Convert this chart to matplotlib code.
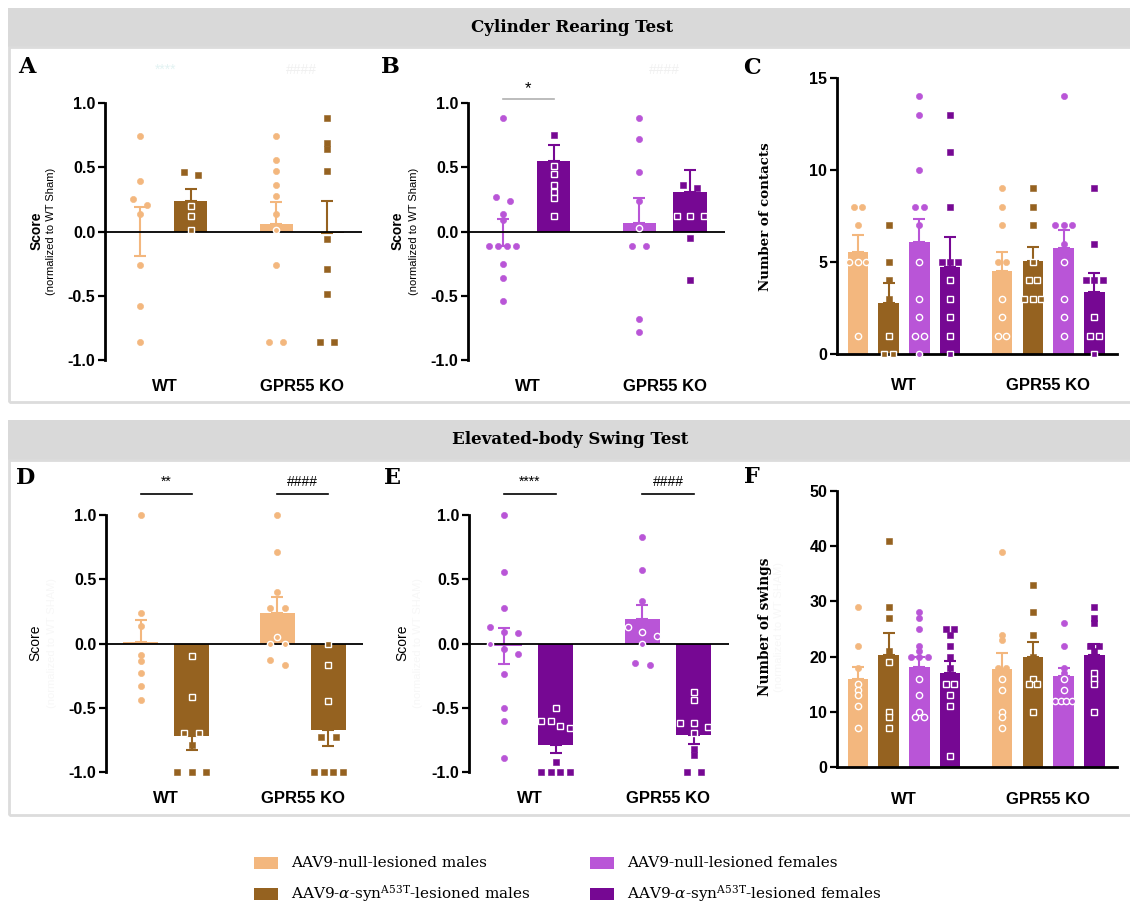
import numpy as np
import matplotlib
matplotlib.use('Agg')
import matplotlib.pyplot as plt
from matplotlib.patches import Rectangle

plt.rcParams['font.family'] = ['Liberation Sans', 'DejaVu Sans']
plt.rcParams['axes.unicode_minus'] = False
plt.rcParams['mathtext.fontset'] = 'dejavuserif'

W, H = 1130, 908

# ---- data ----
groups = ['WT', 'GPR55 KO']
colors = {'null_m': '#F3B77E', 'syn_m': '#956220', 'null_f': '#B955D7', 'syn_f': '#760893'}

# A: cylinder score, males (null WT, syn WT, null KO, syn KO)
a_null_wt = [0.74, 0.39, 0.25, 0.21, 0.14, -0.26, -0.58, -0.86]
a_syn_wt = [0.46, 0.44, 0.20, 0.12, 0.01]
a_null_ko = [0.74, 0.56, 0.47, 0.36, 0.28, 0.14, 0.01, -0.26, -0.86, -0.86]
a_syn_ko = [0.88, 0.69, 0.64, 0.47, -0.06, -0.29, -0.49, -0.86, -0.86]
a_mean = [0.0, 0.24, 0.06, -0.01]
a_err_hi = [0.19, 0.09, 0.17, 0.25]
a_err_lo = [0.19, 0.0, 0.0, 0.0]

# B: cylinder score, females
b_null_wt = [0.88, 0.27, 0.24, 0.14, 0.09, -0.11, -0.11, -0.11, -0.11, -0.25, -0.36, -0.54]
b_syn_wt = [0.75, 0.51, 0.45, 0.36, 0.31, 0.26, 0.12]
b_null_ko = [0.88, 0.72, 0.46, 0.24, 0.03, -0.11, -0.11, -0.68, -0.78]
b_syn_ko = [0.36, 0.34, 0.12, 0.12, 0.12, -0.05, -0.38]
b_mean = [0.0, 0.55, 0.07, 0.31]
b_err_hi = [0.10, 0.12, 0.19, 0.17]
b_err_lo = [0.11, 0.0, 0.0, 0.0]

# C: number of contacts (null m, syn m, null f, syn f) x (WT, KO)
c_null_m_wt = [8, 8, 7, 5, 5, 5, 1]
c_syn_m_wt = [7, 5, 4, 3, 1, 0, 0]
c_null_f_wt = [14, 13, 10, 8, 8, 7, 5, 3, 2, 1, 1, 0]
c_syn_f_wt = [13, 11, 8, 5, 5, 5, 4, 3, 2, 1, 0]
c_null_m_ko = [9, 8, 7, 5, 5, 3, 2, 1, 1]
c_syn_m_ko = [9, 8, 7, 5, 4, 4, 3, 3, 3]
c_null_f_ko = [14, 7, 7, 7, 6, 5, 3, 2, 1]
c_syn_f_ko = [9, 6, 4, 4, 4, 2, 1, 1, 0]
c_mean = [5.57, 2.79, 6.06, 4.73, 4.53, 5.08, 5.75, 3.39]
c_sem = [0.91, 1.06, 1.27, 1.65, 1.0, 0.76, 1.0, 1.0]

# D: swing score, males
d_null_wt = [1.0, 0.24, 0.14, -0.09, -0.14, -0.23, -0.33, -0.44]
d_syn_wt = [-0.10, -0.42, -0.70, -0.70, -0.79, -1.0, -1.0, -1.0]
d_null_ko = [1.0, 0.71, 0.40, 0.28, 0.28, 0.05, 0.0, 0.0, -0.13, -0.17]
d_syn_ko = [0.0, -0.17, -0.45, -0.73, -0.73, -1.0, -1.0, -1.0, -1.0]
d_mean = [0.01, -0.72, 0.24, -0.67]
d_err_hi = [0.17, 0.0, 0.12, 0.0]
d_err_lo = [0.0, 0.11, 0.0, 0.13]

# E: swing score, females
e_null_wt = [1.0, 0.56, 0.28, 0.13, 0.09, 0.08, 0.0, -0.04, -0.08, -0.24, -0.50, -0.60, -0.89]
e_syn_wt = [-0.50, -0.60, -0.60, -0.64, -0.66, -0.92, -1.0, -1.0, -1.0, -1.0]
e_null_ko = [0.83, 0.57, 0.33, 0.13, 0.09, 0.06, 0.0, -0.15, -0.17]
e_syn_ko = [-0.38, -0.44, -0.62, -0.62, -0.65, -0.70, -0.82, -0.87, -1.0, -1.0]
e_mean = [-0.02, -0.79, 0.19, -0.71]
e_err_hi = [0.14, 0.0, 0.11, 0.0]
e_err_lo = [0.14, 0.06, 0.0, 0.07]

# F: number of swings
f_null_m_wt = [29, 22, 18, 15, 14, 13, 11, 7]
f_syn_m_wt = [41, 29, 27, 21, 19, 10, 9, 7]
f_null_f_wt = [28, 27, 25, 22, 21, 20, 20, 20, 16, 13, 10, 9, 9]
f_syn_f_wt = [25, 25, 24, 22, 20, 18, 15, 15, 13, 11, 2]
f_null_m_ko = [39, 24, 23, 18, 18, 16, 14, 10, 9, 7]
f_syn_m_ko = [33, 28, 24, 20, 16, 15, 15, 10]
f_null_f_ko = [26, 22, 18, 17, 16, 14, 12, 12, 12, 12]
f_syn_f_ko = [29, 27, 26, 22, 22, 21, 17, 16, 15, 10]
f_mean = [15.9, 20.2, 18.2, 17.1, 17.8, 19.9, 16.4, 20.35]
f_sem = [2.3, 4.1, 1.7, 2.1, 2.9, 2.7, 1.6, 1.95]

legend_labels = ['AAV9-null-lesioned males',
                 r'AAV9-$\alpha$-syn$^{\mathrm{A53T}}$-lesioned males',
                 'AAV9-null-lesioned females',
                 r'AAV9-$\alpha$-syn$^{\mathrm{A53T}}$-lesioned females']


fig = plt.figure(figsize=(W / 100, H / 100), dpi=100)


def px_axes(x0, y0, x1, y1):
    return fig.add_axes([x0 / W, 1 - y1 / H, (x1 - x0) / W, (y1 - y0) / H])


def ftext(x, y, s, **kw):
    fig.text(x / W, 1 - y / H, s, **kw)


def frect(x0, y0, x1, y1, **kw):
    fig.add_artist(Rectangle((x0 / W, 1 - y1 / H), (x1 - x0) / W, (y1 - y0) / H,
                             transform=fig.transFigure, **kw))


def swarm(vals, px_per_y, step, span, thresh=5.5):
    vals = np.asarray(vals, float)
    order = np.argsort(-vals, kind='stable')
    offs = np.zeros(len(vals))
    clusters = []
    for i in order:
        if clusters and abs(vals[clusters[-1][-1]] - vals[i]) * px_per_y < thresh:
            clusters[-1].append(i)
        else:
            clusters.append([i])
    for cl in clusters:
        k = len(cl)
        if k > 1:
            s = min(step, span / (k - 1))
            for j, i in enumerate(cl):
                offs[i] = (j - (k - 1) / 2) * s
    return offs


def draw_bars(ax, pos, series, means, err_lo, err_hi, cols, marks, bw, px_per_y):
    for x, pts, m, lo, hi, col, mk in zip(pos, series, means, err_lo, err_hi, cols, marks):
        ax.errorbar(x, m, yerr=[[lo], [hi]], color=col, lw=1.5, capsize=4.5,
                    capthick=1.5, zorder=1)
        ax.bar(x, m, width=bw, color=col, zorder=2)
        offs = swarm(pts, px_per_y, 0.42 * bw, 0.82 * bw)
        ms = 4.5 if mk == 'o' else 4.1
        for v, o in zip(pts, offs):
            inside = (0 <= v <= m) if m >= 0 else (m <= v <= 0)
            if inside:
                ax.plot(x + o, v, mk, ms=ms, mfc=col, mec='white', mew=1.0,
                        zorder=4, clip_on=False)
            else:
                ax.plot(x + o, v, mk, ms=ms, mfc=col, mec=col, mew=0.4,
                        zorder=4, clip_on=False)


def style(ax, ylim, yticks, fmt, xlim, xt, xpad, bottom):
    ax.spines['top'].set_visible(False)
    ax.spines['right'].set_visible(False)
    ax.spines['left'].set_linewidth(2)
    if bottom:
        ax.spines['bottom'].set_linewidth(2)
        ax.spines['bottom'].set_position(('data', 0))
    else:
        ax.spines['bottom'].set_visible(False)
    ax.set_xlim(xlim)
    ax.set_ylim(ylim)
    ax.set_yticks(yticks)
    ax.set_yticklabels([fmt.format(t) for t in yticks], fontweight='bold')
    ax.set_xticks(xt)
    ax.set_xticklabels(groups, fontweight='bold', fontsize=12)
    ax.tick_params(axis='y', length=5, width=1.6, labelsize=11.5, pad=2)
    ax.tick_params(axis='x', length=0, pad=xpad)
    ax.patch.set_alpha(0)


# ---- background boxes and headers ----
frect(8, 8, 1131, 47, fc='#d9d9d9', ec='none')
frect(9, 47, 1132, 401.5, fc='none', ec='#dcdcdc', lw=2)
frect(8, 420, 1131, 460, fc='#d9d9d9', ec='none')
frect(9, 460, 1132, 815, fc='none', ec='#dcdcdc', lw=2)
ftext(572, 28, 'Cylinder Rearing Test', family='DejaVu Serif', weight='bold',
      fontsize=12, ha='center', va='center')
ftext(570, 440, 'Elevated-body Swing Test', family='DejaVu Serif', weight='bold',
      fontsize=12, ha='center', va='center')

pos4 = [0, 1, 2.68, 3.68]
xl4 = (-0.68, 4.36)
xt4 = [0.5, 3.18]
pos8 = [0, 1, 2, 3, 4.7, 5.7, 6.7, 7.7]
xl8 = (-0.68, 8.44)
xt8 = [1.5, 6.2]
score_ticks = [-1.0, -0.5, 0.0, 0.5, 1.0]

male_cols = [colors['null_m'], colors['syn_m'], colors['null_m'], colors['syn_m']]
female_cols = [colors['null_f'], colors['syn_f'], colors['null_f'], colors['syn_f']]
all_cols = [colors['null_m'], colors['syn_m'], colors['null_f'], colors['syn_f']] * 2
mk4 = ['o', 's', 'o', 's']
mk8 = ['o', 's', 'o', 's'] * 2

# ---- panel A ----
axA = px_axes(105, 103, 362, 360)
draw_bars(axA, pos4, [a_null_wt, a_syn_wt, a_null_ko, a_syn_ko], a_mean, a_err_lo,
          a_err_hi, male_cols, mk4, 0.66, 128.5)
axA.axhline(0, color='black', lw=1.3, zorder=3)
style(axA, (-1, 1), score_ticks, '{:.1f}', xl4, xt4, 13.5, False)
axA.text(0.5, 1.26, '****', color='#e3f3f3', ha='center', va='center', fontsize=10)
axA.text(3.18, 1.26, '####', color='#f0f0f0', ha='center', va='center', fontsize=10)

# ---- panel B ----
axB = px_axes(468, 103, 725, 360)
draw_bars(axB, pos4, [b_null_wt, b_syn_wt, b_null_ko, b_syn_ko], b_mean, b_err_lo,
          b_err_hi, female_cols, mk4, 0.66, 128.5)
axB.axhline(0, color='black', lw=1.3, zorder=3)
style(axB, (-1, 1), score_ticks, '{:.1f}', xl4, xt4, 13.5, False)
axB.plot([0, 1], [1.03, 1.03], color='#b0b0b0', lw=1.2, clip_on=False)
axB.text(0.5, 1.11, '*', ha='center', va='center', fontsize=12)
axB.text(3.18, 1.26, '####', color='#f0f0f0', ha='center', va='center', fontsize=10)

# ---- panel C ----
axC = px_axes(837, 78, 1117, 354)
draw_bars(axC, pos8, [c_null_m_wt, c_syn_m_wt, c_null_f_wt, c_syn_f_wt,
                      c_null_m_ko, c_syn_m_ko, c_null_f_ko, c_syn_f_ko],
          c_mean, [0] * 8, c_sem, all_cols, mk8, 0.67, 276 / 15)
style(axC, (0, 15), [0, 5, 10, 15], '{:d}', xl8, xt8, 17, True)

# ---- panel D ----
axD = px_axes(106, 515, 363, 772)
draw_bars(axD, pos4, [d_null_wt, d_syn_wt, d_null_ko, d_syn_ko], d_mean, d_err_lo,
          d_err_hi, male_cols, mk4, 0.68, 128.5)
axD.axhline(0, color='black', lw=1.3, zorder=3)
style(axD, (-1, 1), score_ticks, '{:.1f}', xl4, xt4, 13.5, False)

# ---- panel E ----
axE = px_axes(469, 515, 729, 772)
draw_bars(axE, pos4, [e_null_wt, e_syn_wt, e_null_ko, e_syn_ko], e_mean, e_err_lo,
          e_err_hi, female_cols, mk4, 0.68, 128.5)
axE.axhline(0, color='black', lw=1.3, zorder=3)
style(axE, (-1, 1), score_ticks, '{:.1f}', xl4, xt4, 13.5, False)

# significance bars in D and E
for ax, marks in [(axD, ['**', '####']), (axE, ['****', '####'])]:
    for (x0, x1), s in zip([(pos4[0], pos4[1]), (pos4[2], pos4[3])], marks):
        ax.plot([x0, x1], [1.163, 1.163], color='black', lw=1.2, clip_on=False)
        ax.text((x0 + x1) / 2, 1.255, s, ha='center', va='center', fontsize=10)

# ---- panel F ----
axF = px_axes(837, 491, 1117, 767)
draw_bars(axF, pos8, [f_null_m_wt, f_syn_m_wt, f_null_f_wt, f_syn_f_wt,
                      f_null_m_ko, f_syn_m_ko, f_null_f_ko, f_syn_f_ko],
          f_mean, [0] * 8, f_sem, all_cols, mk8, 0.67, 276 / 50)
style(axF, (0, 50), [0, 10, 20, 30, 40, 50], '{:d}', xl8, xt8, 18, True)

# ---- panel letters ----
for (x, y), s in zip([(27, 67), (390, 67), (752, 68), (26, 478), (392, 478), (752, 477)],
                     'ABCDEF'):
    ftext(x, y, s, family='DejaVu Serif', weight='bold', fontsize=16,
          ha='center', va='center')

# ---- y labels ----
ghost = '#f7f7f7'
ftext(37, 231, 'Score', weight='bold', fontsize=10, rotation=90, ha='center', va='center')
ftext(51, 231, '(normalized to WT Sham)', fontsize=8, rotation=90, ha='center', va='center')
ftext(398, 231, 'Score', weight='bold', fontsize=10, rotation=90, ha='center', va='center')
ftext(414, 231, '(normalized to WT Sham)', fontsize=8, rotation=90, ha='center', va='center')
ftext(765, 217, 'Number of contacts', family='DejaVu Serif', weight='bold', fontsize=9.6,
      rotation=90, ha='center', va='center')
ftext(35, 643, 'Score', fontsize=10, rotation=90, ha='center', va='center')
ftext(52, 643, '(normalized to WT SHAM)', fontsize=8, color=ghost, rotation=90,
      ha='center', va='center')
ftext(402, 643, 'Score', fontsize=10, rotation=90, ha='center', va='center')
ftext(418, 643, '(normalized to WT SHAM)', fontsize=8, color=ghost, rotation=90,
      ha='center', va='center')
ftext(765, 627, 'Number of swings', family='DejaVu Serif', weight='bold', fontsize=9.8,
      rotation=90, ha='center', va='center')
ftext(779, 627, '(normalized to WT SHAM)', fontsize=8, color=ghost, rotation=90,
      ha='center', va='center')

# ---- legend ----
leg_cols = [colors['null_m'], colors['syn_m'], colors['null_f'], colors['syn_f']]
for i, (lab, col) in enumerate(zip(legend_labels, leg_cols)):
    cx = 254 if i < 2 else 590
    cy = 863 if i % 2 == 0 else 894
    frect(cx, cy - 6, cx + 24, cy + 6, fc=col, ec='none')
    ftext(cx + 37, cy, lab, family='DejaVu Serif', fontsize=11, ha='left', va='center')

fig.savefig('out.png', dpi=100)
